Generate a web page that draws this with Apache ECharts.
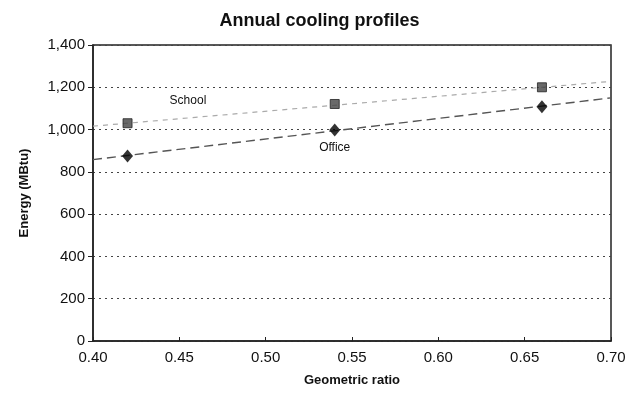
<!DOCTYPE html>
<html><head><meta charset="utf-8">
<script src="https://cdn.jsdelivr.net/npm/echarts@6/dist/echarts.min.js"></script>
<style>html,body{margin:0;padding:0;background:#fff}#c{width:639px;height:394px}</style>
</head><body><div id="c"></div>
<script>
const xTicks = [0.40, 0.45, 0.50, 0.55, 0.60, 0.65, 0.70];
const ratios = [0.42, 0.54, 0.66];
const school = [1030, 1121, 1200];
const office = [875, 998, 1108];
const schoolTrend = [[0.40, 1016], [0.70, 1228]];
const officeTrend = [[0.40, 858], [0.70, 1150]];
const labels = [{name: 'School', coord: [0.455, 1135]}, {name: 'Office', coord: [0.540, 912]}];

const font = 'Liberation Sans, Arial, sans-serif';
const chart = echarts.init(document.getElementById('c'));
chart.setOption({
  backgroundColor: '#fff',
  animation: false,
  title: {text: 'Annual cooling profiles', left: 'center', top: 7,
    textStyle: {fontFamily: font, fontSize: 18, fontWeight: 'bold', color: '#111'}},
  grid: {left: 93, right: 28, top: 45, bottom: 53, show: true, borderColor: '#222', borderWidth: 1.5},
  xAxis: {type: 'value', min: 0.40, max: 0.70, interval: 0.05,
    name: 'Geometric ratio', nameLocation: 'middle', nameGap: 33,
    nameTextStyle: {fontFamily: font, fontSize: 13, fontWeight: 'bold', color: '#111'},
    axisLine: {lineStyle: {color: '#222', width: 1.5}},
    axisTick: {show: true, inside: true, length: 4, lineStyle: {color: '#222'}},
    axisLabel: {fontFamily: font, fontSize: 15, color: '#111', margin: 9,
      formatter: v => v.toFixed(2)},
    splitLine: {show: false}},
  yAxis: {type: 'value', min: 0, max: 1400, interval: 200,
    name: 'Energy (MBtu)', nameLocation: 'middle', nameGap: 62,
    nameTextStyle: {fontFamily: font, fontSize: 13, fontWeight: 'bold', color: '#111'},
    axisLine: {show: true, lineStyle: {color: '#222', width: 1.5}},
    axisTick: {show: true, length: 5, lineStyle: {color: '#222'}},
    axisLabel: {fontFamily: font, fontSize: 15, color: '#111', margin: 8,
      formatter: v => v.toLocaleString('en-US')},
    splitLine: {show: true, lineStyle: {color: '#444', type: [2, 4], width: 1.2}}},
  series: [
    {type: 'line', data: schoolTrend, symbol: 'none', silent: true, z: 1,
      lineStyle: {color: '#aaa', type: [5, 5], width: 1.2}},
    {type: 'line', data: officeTrend, symbol: 'none', silent: true, z: 1,
      lineStyle: {color: '#555', type: [9, 5], width: 1.4}},
    {type: 'scatter', name: 'School', data: ratios.map((x, i) => [x, school[i]]), z: 5,
      symbol: 'rect', symbolSize: 9, itemStyle: {color: '#444', borderColor: '#222', borderWidth: 1}},
    {type: 'scatter', name: 'Office', data: ratios.map((x, i) => [x, office[i]]), z: 5,
      symbol: 'diamond', symbolSize: [11, 13], itemStyle: {color: '#000'},
      markPoint: {symbol: 'circle', symbolSize: 1, silent: true,
        itemStyle: {color: 'rgba(0,0,0,0)'},
        label: {show: true, position: 'inside', formatter: '{b}', fontFamily: font, fontSize: 12, color: '#111'},
        data: labels.map(l => ({name: l.name, coord: l.coord}))}}
  ]
});
</script></body></html>
